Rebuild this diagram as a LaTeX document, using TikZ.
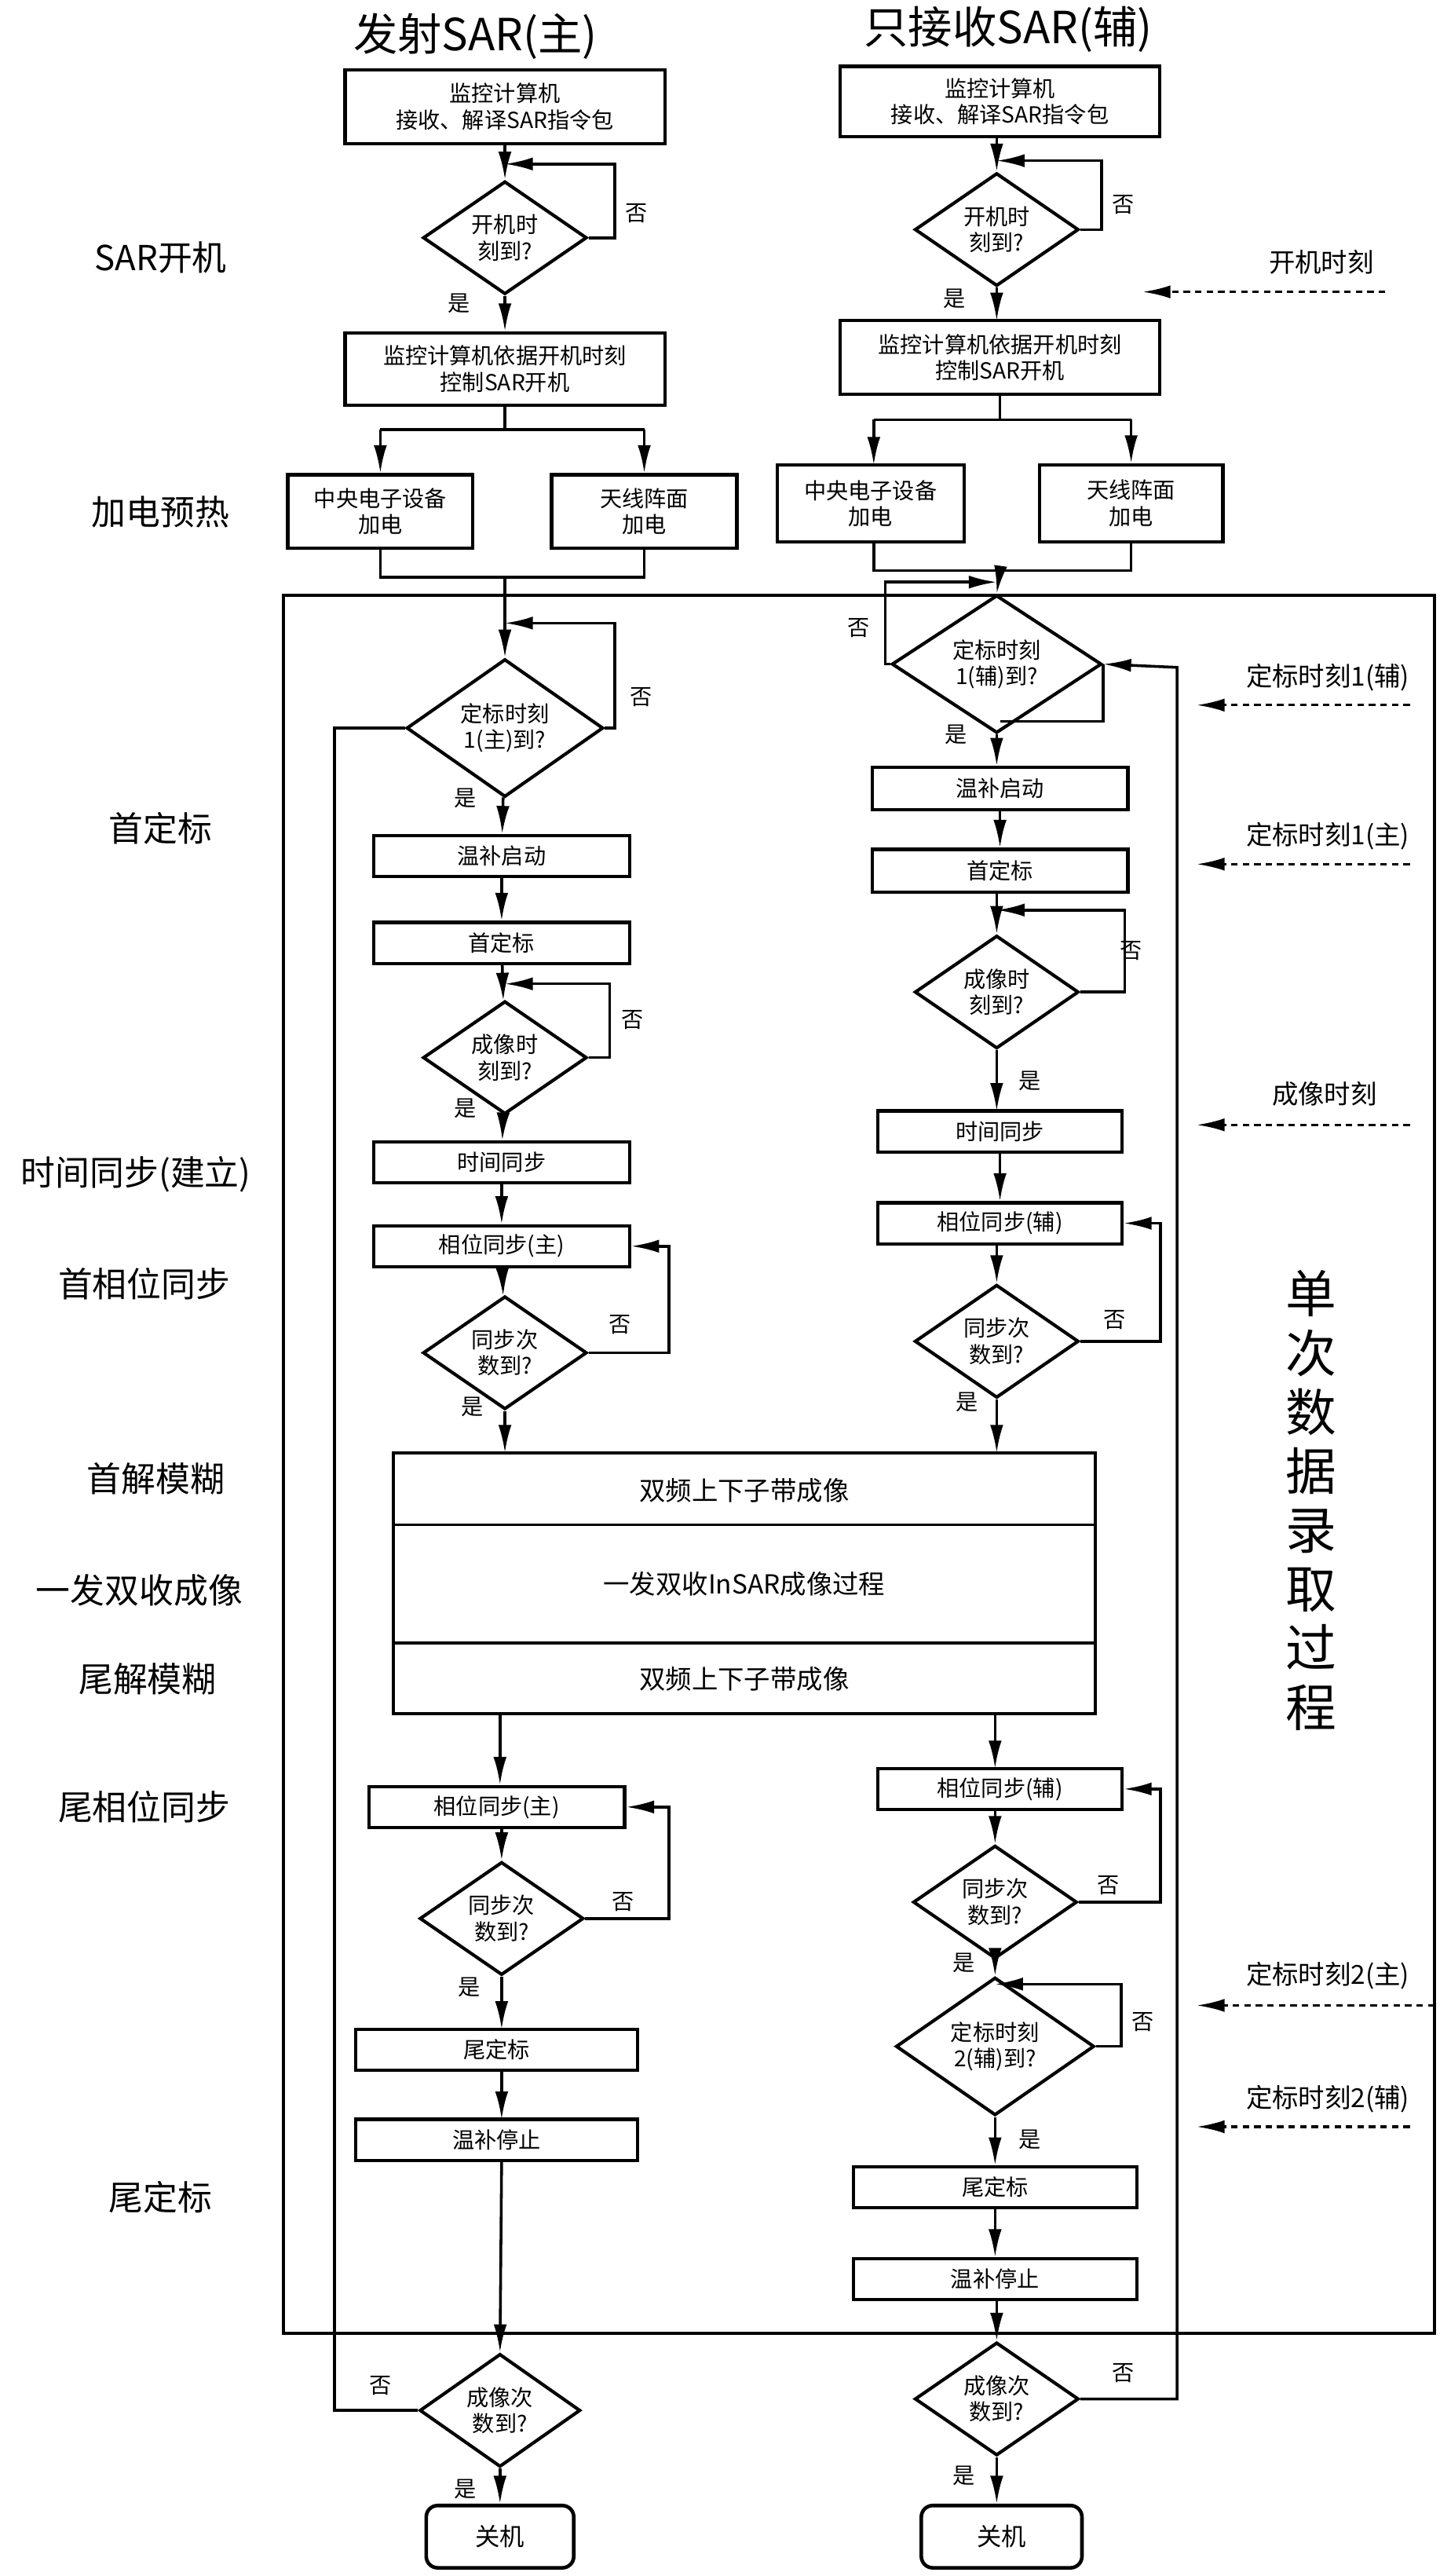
\documentclass[tikz,border=0pt]{standalone}
\usepackage{fontspec}
\setmainfont{Noto Sans CJK SC}
\usetikzlibrary{arrows.meta,shapes.geometric}
\begin{document}
\begin{tikzpicture}[x=1pt,y=-1pt,
  >={Latex[length=17pt,width=8pt]},
  line width=1.7pt,
  box/.style={draw,line width=2pt,align=center,inner sep=0pt,font=\fontsize{13.5}{16}\selectfont},
  dia/.style={draw,diamond,line width=2pt,align=center,inner sep=0pt,font=\fontsize{13.5}{16}\selectfont},
  lab/.style={font=\fontsize{13.5}{16}\selectfont},
  side/.style={font=\fontsize{21}{24}\selectfont},
  rlab/.style={font=\fontsize{16}{19}\selectfont},
  tim/.style={->,line width=1.6pt,dash pattern=on 4pt off 3pt},
  term/.style={draw,line width=2.2pt,rounded corners=7pt,inner sep=0pt,font=\fontsize{15}{17}\selectfont}]
\useasboundingbox (0,0) rectangle (878,1571);
% titles
\node[font=\fontsize{27}{31}\selectfont] (TL) at (290,22) {发射SAR(主)};
\node[font=\fontsize{27}{31}\selectfont] (TR) at (615,18) {只接收SAR(辅)};
% side labels
\node[side] (s1) at (98,157) {SAR开机};
\node[side] (s2) at (98,312) {加电预热};
\node[side] (s3) at (98,505) {首定标};
\node[side] (s4) at (83,716) {时间同步(建立)};
\node[side] (s5) at (88,783) {首相位同步};
\node[side] (s6) at (95,902) {首解模糊};
\node[side] (s7) at (85,970) {一发双收成像};
\node[side] (s8) at (90,1024) {尾解模糊};
\node[side] (s9) at (88,1102) {尾相位同步};
\node[side] (s10) at (98,1340) {尾定标};
% frame
\draw[line width=2.2pt] (173,363) rectangle (875,1423);
\node[font=\fontsize{31}{36}\selectfont,align=center] (vt) at (800,915) {单\\次\\数\\据\\录\\取\\过\\程};
% ---------------- LEFT ----------------
\node[box,minimum width=195,minimum height=45] (L1) at (308,65) {监控计算机\\接收、解译SAR指令包};
\node[dia,minimum width=100,minimum height=64] (Ld1) at (308,145) {开机时\\刻到?};
\draw[->] (L1) -- (Ld1);
\draw[->] (Ld1.east) -- (375,145) |- (308,100);
\node[lab] at (388,130) {否}; \node[lab] at (280,185) {是};
\node[box,minimum width=195,minimum height=44] (L2) at (308,225) {监控计算机依据开机时刻\\控制SAR开机};
\draw[->] (Ld1) -- (L2);
\node[box,minimum width=113,minimum height=45] (L3) at (232,312) {中央电子设备\\加电};
\node[box,minimum width=113,minimum height=45] (L4) at (393,312) {天线阵面\\加电};
\draw (L2.south) -- (308,262);
\draw (232,262) -- (393,262);
\draw[->] (232,262) -- (L3.north);
\draw[->] (393,262) -- (L4.north);
\draw (L3.south) -- (232,352) -- (393,352) -- (L4.south);
\node[dia,minimum width=120,minimum height=62] (Ld2) at (308,444) {定标时刻\\1(主)到?};
\draw[->] (308,352) -- (Ld2.north);
\draw[->] (Ld2.east) -- (375,444) |- (308,380);
\node[lab] at (391,425) {否}; \node[lab] at (284,487) {是};
\node[box,minimum width=156,minimum height=25] (L5) at (306,522) {温补启动};
\node[box,minimum width=156,minimum height=25] (L6) at (306,575) {首定标};
\node[dia,minimum width=100,minimum height=60] (Ld3) at (308,645) {成像时\\刻到?};
\draw[->] (Ld2) -- (L5);
\draw[->] (L5) -- (L6);
\draw[->] (L6) -- (Ld3);
\draw[->] (Ld3.east) -- (372,645) |- (308,600);
\node[lab] at (386,622) {否}; \node[lab] at (284,676) {是};
\node[box,minimum width=156,minimum height=25] (L7) at (306,709) {时间同步};
\node[box,minimum width=156,minimum height=25] (L8) at (306,760) {相位同步(主)};
\node[dia,minimum width=100,minimum height=60] (Ld4) at (308,825) {同步次\\数到?};
\draw[->] (Ld3) -- (L7);
\draw[->] (L7) -- (L8);
\draw[->] (L8) -- (Ld4);
\draw[->] (Ld4.east) -- (408,825) |- (L8.east);
\node[lab] at (378,808) {否}; \node[lab] at (288,858) {是};
% big box
\node[draw,line width=2pt,minimum width=428,minimum height=159,inner sep=0] (BB) at (454,965.5) {};
\draw[line width=1.6pt] (240,930) -- (668,930);
\draw[line width=1.6pt] (240,1002) -- (668,1002);
\node[font=\fontsize{16}{19}\selectfont] (b1) at (454,909) {双频上下子带成像};
\node[font=\fontsize{16}{19}\selectfont] (b2) at (454,966) {一发双收InSAR成像过程};
\node[font=\fontsize{16}{19}\selectfont] (b3) at (454,1024) {双频上下子带成像};
\draw[->] (Ld4.south) -- (308,886);
\node[box,minimum width=156,minimum height=25] (L9) at (303,1102) {相位同步(主)};
\draw[->] (305,1045) -- (L9.north -| 305,0);
\node[dia,minimum width=100,minimum height=58] (Ld5) at (306,1170) {同步次\\数到?};
\draw[->] (L9.south -| 306,0) -- (Ld5.north);
\draw[->] (Ld5.east) -- (408,1170) |- (L9.east);
\node[lab] at (380,1160) {否}; \node[lab] at (286,1212) {是};
\node[box,minimum width=172,minimum height=25] (L10) at (303,1250) {尾定标};
\node[box,minimum width=172,minimum height=25] (L11) at (303,1305) {温补停止};
\draw[->] (Ld5.south) -- (306,1237.5);
\draw[->] (306,1262.5) -- (306,1292.5);
\node[dia,minimum width=98,minimum height=59] (Ld6) at (305,1470) {成像次\\数到?};
\draw[->] (306,1317.5) -- (Ld6.north);
\draw (Ld6.west) -| (204,444) -- (Ld2.west);
\node[lab] at (232,1455) {否}; \node[lab] at (284,1518) {是};
\node[term,minimum width=90,minimum height=38] (L12) at (305,1547) {关机};
\draw[->] (Ld6) -- (L12);
% ---------------- RIGHT ----------------
\node[box,minimum width=195,minimum height=43] (R1) at (610,62) {监控计算机\\接收、解译SAR指令包};
\node[dia,minimum width=100,minimum height=60] (Rd1) at (608,140) {开机时\\刻到?};
\draw[->] (R1.south -| 608,0) -- (Rd1);
\draw[->] (Rd1.east) -- (672,140) |- (608,98);
\node[lab] at (685,125) {否}; \node[lab] at (582,182) {是};
\node[box,minimum width=195,minimum height=45] (R2) at (610,218) {监控计算机依据开机时刻\\控制SAR开机};
\draw[->] (Rd1.south) -- (608,195.5);
\node[box,minimum width=114,minimum height=47] (R3) at (531,307) {中央电子设备\\加电};
\node[box,minimum width=112,minimum height=47] (R4) at (690,307) {天线阵面\\加电};
\draw (R2.south) -- (610,256);
\draw (533,256) -- (690,256);
\draw[->] (533,256) -- (533,283.5);
\draw[->] (690,256) -- (R4.north);
\draw (533,330.5) -- (533,348) -- (690,348) -- (R4.south);
\node[dia,minimum width=128,minimum height=70] (Rd2) at (608,405) {定标时刻\\1(辅)到?};
\draw[->] (610,348) -- (Rd2.north);
\draw[->] (Rd2.west) -- (540,405) |- (608,355);
\draw (Rd2.east) |- (610,440);
\node[lab] at (524,383) {否}; \node[lab] at (583,448) {是};
\node[box,minimum width=156,minimum height=26] (R5) at (610,481) {温补启动};
\node[box,minimum width=156,minimum height=26] (R6) at (610,531) {首定标};
\node[dia,minimum width=100,minimum height=60] (Rd3) at (608,605) {成像时\\刻到?};
\draw[->] (Rd2.south) -- (R5.north -| 608,0);
\draw[->] (R5) -- (R6);
\draw[->] (R6.south -| 608,0) -- (Rd3);
\draw[->] (Rd3.east) -- (686,605) |- (608,555);
\node[lab] at (690,580) {否}; \node[lab] at (628,659) {是};
\node[box,minimum width=149,minimum height=25] (R7) at (610,690) {时间同步};
\node[box,minimum width=149,minimum height=25] (R8) at (610,746) {相位同步(辅)};
\node[dia,minimum width=100,minimum height=58] (Rd4) at (608,818) {同步次\\数到?};
\draw[->] (Rd3.south) -- (608,677.5);
\draw[->] (R7) -- (R8);
\draw[->] (608,758.5) -- (Rd4.north);
\draw[->] (Rd4.east) -- (708,818) |- (R8.east);
\node[lab] at (680,805) {否}; \node[lab] at (590,855) {是};
\draw[->] (Rd4.south) -- (608,886);
\node[box,minimum width=149,minimum height=25] (R9) at (610,1091) {相位同步(辅)};
\draw[->] (607,1045) -- (607,1078.5);
\node[dia,minimum width=100,minimum height=58] (Rd5) at (607,1160) {同步次\\数到?};
\draw[->] (607,1103.5) -- (Rd5.north);
\draw[->] (Rd5.east) -- (708,1160) |- (R9.east);
\node[lab] at (676,1150) {否}; \node[lab] at (588,1197) {是};
\node[dia,minimum width=121,minimum height=58] (Rd6) at (607,1248) {定标时刻\\2(辅)到?};
\draw[->] (Rd5) -- (Rd6);
\draw[->] (Rd6.east) -- (684,1248) |- (607,1210);
\node[lab] at (697,1233) {否}; \node[lab] at (628,1305) {是};
\node[box,minimum width=173,minimum height=25] (R10) at (607,1334) {尾定标};
\node[box,minimum width=173,minimum height=25] (R11) at (607,1390) {温补停止};
\draw[->] (Rd6) -- (R10);
\draw[->] (R10) -- (R11);
\node[dia,minimum width=100,minimum height=60] (Rd7) at (608,1463) {成像次\\数到?};
\draw[->] (608,1402.5) -- (Rd7.north);
\draw[->] (Rd7.east) -| (718,407) -- (Rd2.east);
\node[lab] at (685,1447) {否}; \node[lab] at (588,1510) {是};
\node[term,minimum width=98,minimum height=38] (R12) at (611,1547) {关机};
\draw[->] (Rd7.south) -- (R12.north -| 608,0);
% time signals
\node[rlab] (t1) at (806,160) {开机时刻};
\coordinate (t1s) at (845,178); \coordinate (t1e) at (697,178);
\draw[tim] (t1s) -- (t1e);
\node[rlab] (t2) at (810,413) {定标时刻1(辅)};
\coordinate (t2s) at (860,430); \coordinate (t2e) at (730,430);
\draw[tim] (t2s) -- (t2e);
\node[rlab] (t3) at (810,510) {定标时刻1(主)};
\coordinate (t3s) at (860,527); \coordinate (t3e) at (730,527);
\draw[tim] (t3s) -- (t3e);
\node[rlab] (t4) at (808,667) {成像时刻};
\coordinate (t4s) at (860,686); \coordinate (t4e) at (730,686);
\draw[tim] (t4s) -- (t4e);
\node[rlab] (t5) at (810,1205) {定标时刻2(主)};
\coordinate (t5s) at (875,1223); \coordinate (t5e) at (730,1223);
\draw[tim] (t5s) -- (t5e);
\node[rlab] (t6) at (810,1280) {定标时刻2(辅)};
\coordinate (t6s) at (860,1297); \coordinate (t6e) at (730,1297);
\draw[tim] (t6s) -- (t6e);
\end{tikzpicture}
\end{document}
